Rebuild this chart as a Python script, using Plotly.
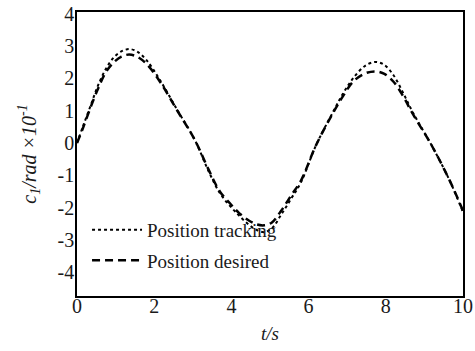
import plotly.graph_objects as go

t = [0, 0.15, 0.35, 0.55, 0.75, 0.95, 1.15, 1.35, 1.55, 1.8, 2.15, 2.6, 3.05, 3.4, 3.7,
     4.0, 4.2, 4.45, 4.65, 4.85, 5.05, 5.3, 5.55, 5.8, 6.2, 6.65, 6.9, 7.15, 7.45, 7.72,
     7.95, 8.2, 8.45, 8.7, 9.2, 9.65, 10]

tracking = [0, 0.5, 1.15, 1.8, 2.3, 2.65, 2.84, 2.91, 2.84, 2.57, 1.95, 1.02, 0.1, -0.85, -1.55,
            -2.0, -2.25, -2.53, -2.69, -2.76, -2.64, -2.2, -1.72, -1.22, -0.05, 1.0, 1.55, 2.0, 2.38, 2.51,
            2.43, 2.1, 1.55, 0.95, -0.1, -1.15, -2.14]

desired = [0, 0.45, 1.1, 1.7, 2.2, 2.5, 2.68, 2.74, 2.68, 2.45, 1.9, 1.0, 0.1, -0.8, -1.5,
           -1.92, -2.17, -2.4, -2.52, -2.55, -2.46, -2.08, -1.62, -1.17, -0.05, 0.97, 1.47, 1.9, 2.15, 2.22,
           2.15, 1.9, 1.45, 0.9, -0.1, -1.15, -2.1]

x_ticks = [0, 2, 4, 6, 8, 10]
y_ticks = [-4, -3, -2, -1, 0, 1, 2, 3, 4]
y_tick_labels = ["-4", "-3", "-2", "-1", "0", "1", "2", "3", "4"]

font_family = "Liberation Serif, Times New Roman, serif"

fig = go.Figure()
fig.add_trace(go.Scatter(
    x=t, y=tracking, mode="lines", name="Position tracking", legendgroup="a",
    line=dict(color="black", width=2, dash="dot", shape="spline", smoothing=1.0),
))
fig.add_trace(go.Scatter(
    x=t, y=desired, mode="lines", name="Position desired", legendgroup="b",
    line=dict(color="black", width=2.5, dash="8px,5px", shape="spline", smoothing=1.0),
))

fig.update_layout(
    width=475, height=351,
    margin=dict(l=77, r=12, t=12, b=55, autoexpand=False),
    paper_bgcolor="white", plot_bgcolor="white",
    font=dict(family=font_family, size=18, color="#1a1a1a"),
    showlegend=True,
    legend=dict(
        x=0.026, y=0.30, xanchor="left", yanchor="top",
        bgcolor="rgba(0,0,0,0)", borderwidth=0,
        itemwidth=50, tracegroupgap=3,
        font=dict(family=font_family, size=19, color="#1a1a1a"),
    ),
    xaxis=dict(
        range=[0, 10], tickvals=x_ticks, ticks="", showgrid=False, zeroline=False,
        showline=True, linecolor="black", linewidth=1.5, mirror=True, automargin=False,
        ticklabelstandoff=-9,
        title=dict(text="<i>t/s</i>", font=dict(size=19), standoff=11),
        tickfont=dict(size=20),
    ),
    yaxis=dict(
        range=[-4.74, 4.06], tickvals=y_ticks, ticktext=y_tick_labels, ticks="",
        showgrid=False, zeroline=False, automargin=False,
        ticklabelstandoff=-3,
        showline=True, linecolor="black", linewidth=1.5, mirror=True,
        title=dict(text="<i>c<sub>1</sub>/rad ×10<sup>-1</sup></i>", font=dict(size=20), standoff=16),
        tickfont=dict(size=20),
    ),
)

fig.write_html("out.html", config={"displayModeBar": False},
               post_script="document.body.style.margin='0';")
